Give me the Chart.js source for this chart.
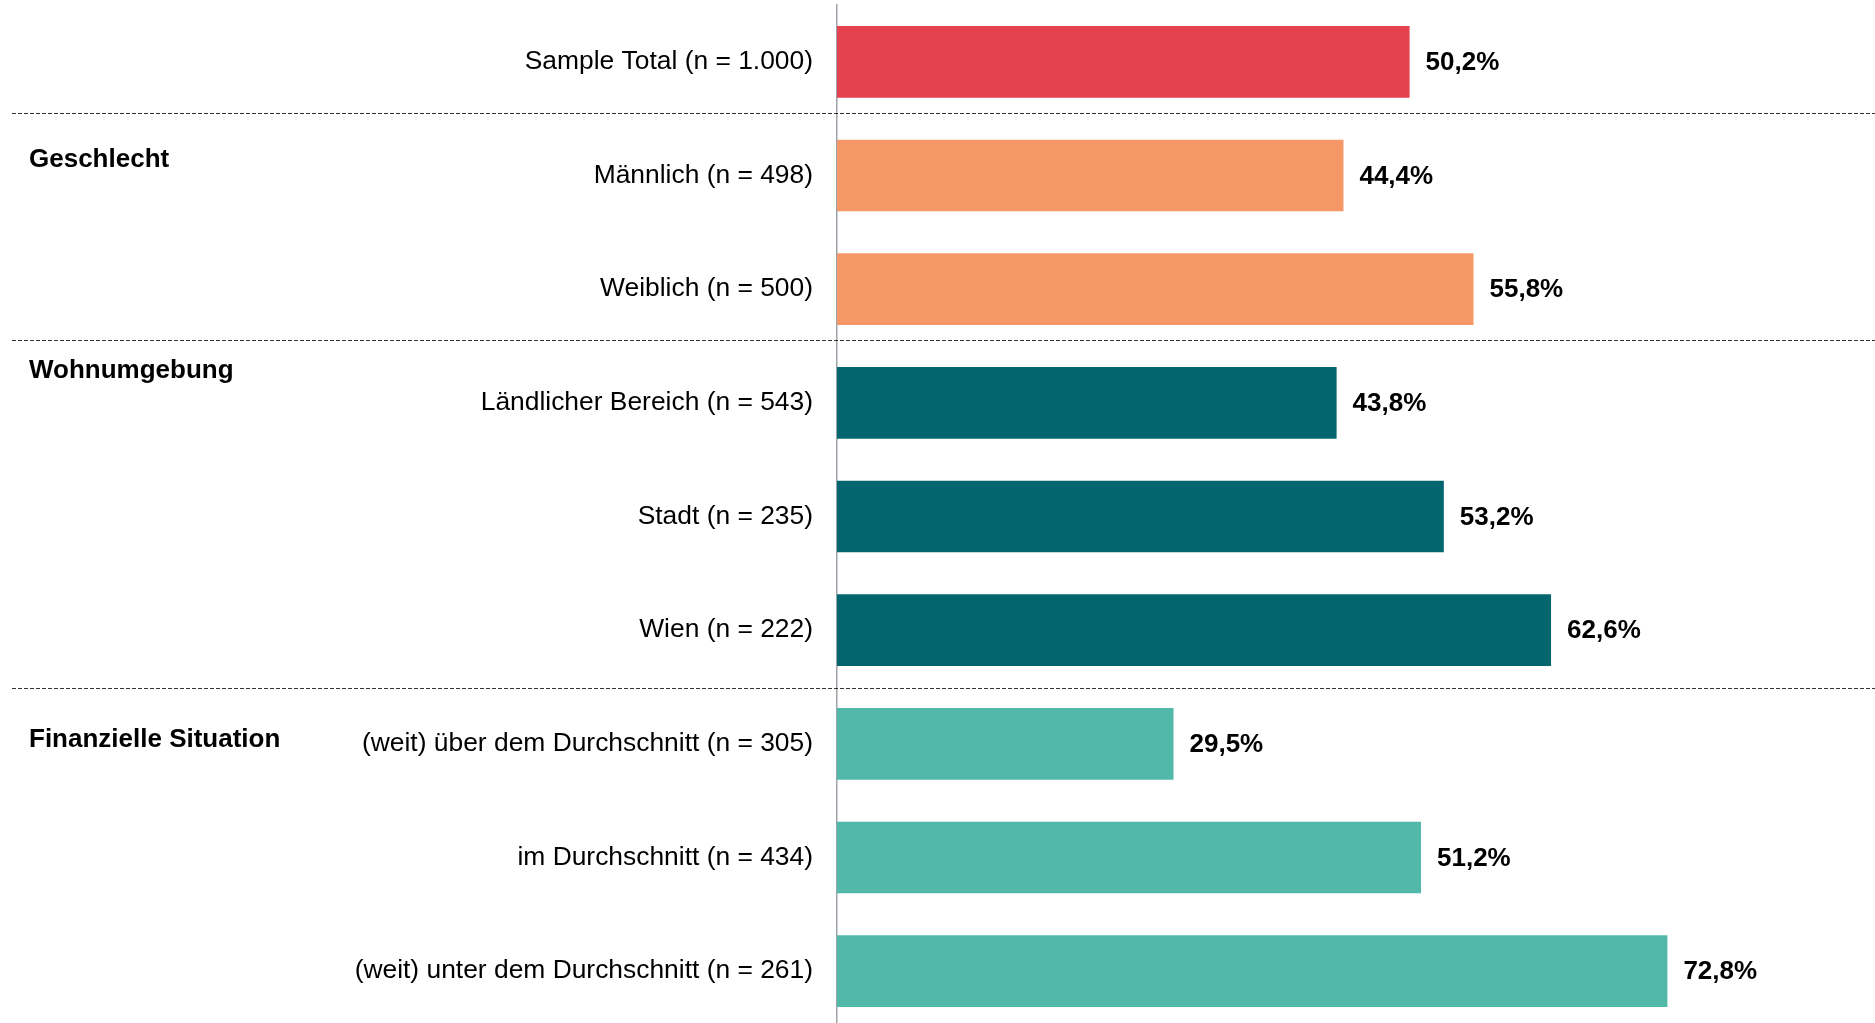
<!DOCTYPE html>
<html>
<head>
<meta charset="utf-8">
<script src="https://cdn.jsdelivr.net/npm/chart.js@4"></script>
<style>
  html, body { margin: 0; padding: 0; background: #fff; overflow: hidden; }
  #wrap { position: relative; width: 1875px; height: 1028px; }
</style>
</head>
<body>
<div id="wrap"><canvas id="shareChart"></canvas></div>
<script>
// Categories and values (share in %)
const categories = [
  'Sample Total (n = 1.000)',
  'Männlich (n = 498)',
  'Weiblich (n = 500)',
  'Ländlicher Bereich (n = 543)',
  'Stadt (n = 235)',
  'Wien (n = 222)',
  '(weit) über dem Durchschnitt (n = 305)',
  'im Durchschnitt (n = 434)',
  '(weit) unter dem Durchschnitt (n = 261)'
];
const shares = [50.2, 44.4, 55.8, 43.8, 53.2, 62.6, 29.5, 51.2, 72.8];

// Group headings on the left
const groupNames = ['Geschlecht', 'Wohnumgebung', 'Finanzielle Situation'];

const FONT = '"Liberation Sans", Arial, Helvetica, sans-serif';
const barColors = ['#E5424F', '#F59766', '#F59766', '#03666E', '#03666E', '#03666E', '#52B9AA', '#52B9AA', '#52B9AA'];
const groupLabelPos = [0.851, 2.713, 5.955];   // in category units
const separatorPos = [0.45, 2.445, 5.51];       // in category units

// draws value labels, dashed separators and group headings
const extrasPlugin = {
  id: 'extras',
  afterDatasetsDraw(chart) {
    const ctx = chart.ctx;
    const y = chart.scales.y;

    ctx.save();
    // dashed separators
    ctx.strokeStyle = '#333';
    ctx.lineWidth = 1;
    ctx.setLineDash([4, 2]);
    separatorPos.forEach(p => {
      const py = Math.round(y.getPixelForValue(p)) + 0.5;
      ctx.beginPath();
      ctx.moveTo(12, py);
      ctx.lineTo(chart.width, py);
      ctx.stroke();
    });
    ctx.setLineDash([]);

    // value labels
    ctx.fillStyle = '#000';
    ctx.font = 'bold 26px ' + FONT;
    ctx.textAlign = 'left';
    ctx.textBaseline = 'middle';
    const meta = chart.getDatasetMeta(0);
    meta.data.forEach((bar, i) => {
      ctx.fillText(shares[i].toFixed(1).replace('.', ',') + '%', bar.x + 16, bar.y + 1);
    });

    // group headings
    groupNames.forEach((name, i) => {
      ctx.fillText(name, 29, y.getPixelForValue(groupLabelPos[i]) + 1);
    });
    ctx.restore();
  }
};

new Chart(document.getElementById('shareChart'), {
  type: 'bar',
  data: {
    labels: categories,
    datasets: [{
      data: shares,
      backgroundColor: barColors,
      borderWidth: 0,
      barPercentage: 0.63,
      categoryPercentage: 1
    }]
  },
  options: {
    indexAxis: 'y',
    responsive: true,
    maintainAspectRatio: false,
    animation: false,
    layout: { padding: { top: 5, bottom: 0, left: 0, right: 0 } },
    plugins: {
      legend: { display: false },
      tooltip: { enabled: false }
    },
    scales: {
      x: {
        display: false,
        min: 0,
        max: 91
      },
      y: {
        afterFit: scale => {
          scale.width = 837;
          scale.paddingTop = 0;
          scale.paddingBottom = 0;
        },
        grid: { display: true, color: 'transparent', drawTicks: false },
        border: { display: true, color: '#9DA3AA', width: 1.5 },
        ticks: {
          color: '#000',
          padding: 24,
          autoSkip: false,
          font: { family: FONT, size: 26.4 }
        }
      }
    }
  },
  plugins: [extrasPlugin]
});
</script>
</body>
</html>
